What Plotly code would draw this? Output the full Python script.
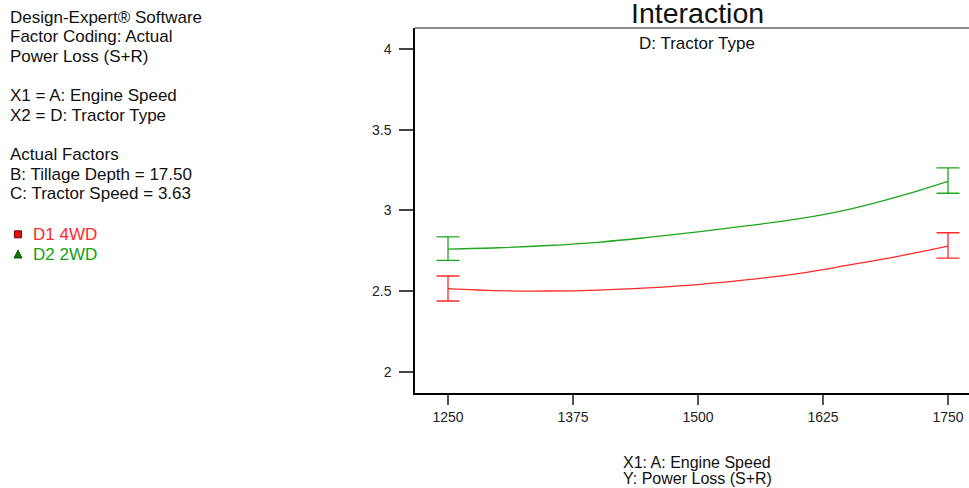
import plotly.graph_objects as go

# ---- data ----
engine_speed = [1250, 1300, 1350, 1400, 1450, 1500, 1550, 1600, 1650, 1700, 1750]
d1_4wd = [2.515, 2.502, 2.500, 2.506, 2.520, 2.540, 2.570, 2.608, 2.660, 2.715, 2.778]
d2_2wd = [2.760, 2.768, 2.782, 2.802, 2.832, 2.866, 2.905, 2.947, 3.005, 3.085, 3.180]

bar_x = [1250, 1750]
d1_bar_mean = [2.515, 2.778]
d1_bar_low = [2.438, 2.704]
d1_bar_high = [2.593, 2.861]
d2_bar_mean = [2.760, 3.180]
d2_bar_low = [2.690, 3.106]
d2_bar_high = [2.836, 3.263]

x_ticks = [1250, 1375, 1500, 1625, 1750]
y_ticks = [2, 2.5, 3, 3.5, 4]

info_lines = [
    "Design-Expert® Software", "Factor Coding: Actual", "Power Loss (S+R)", "",
    "X1 = A: Engine Speed", "X2 = D: Tractor Type", "",
    "Actual Factors", "B: Tillage Depth = 17.50", "C: Tractor Speed = 3.63",
]
legend_names = ["D1 4WD", "D2 2WD"]

RED = "#ff2a2a"
GREEN = "#1fa51f"
FONT = "Liberation Sans, Arial, sans-serif"

W, H = 969, 488
L, R, T, B = 415, 0, 28, 95
PW, PH = W - L - R, H - T - B


def px(x):
    return (x - L) / PW


def py(y):
    return (H - B - y) / PH


fig = go.Figure()

for name, vals, col in [(legend_names[0], d1_4wd, RED), (legend_names[1], d2_2wd, GREEN)]:
    fig.add_trace(go.Scatter(x=engine_speed, y=vals, mode="lines", name=name,
                             line=dict(color=col, width=1.3, shape="spline"),
                             showlegend=False, hoverinfo="skip"))

for mean, lo, hi, col in [(d1_bar_mean, d1_bar_low, d1_bar_high, RED),
                          (d2_bar_mean, d2_bar_low, d2_bar_high, GREEN)]:
    fig.add_trace(go.Scatter(
        x=bar_x, y=mean, mode="markers", marker=dict(size=1, color=col, opacity=0),
        showlegend=False, hoverinfo="skip",
        error_y=dict(type="data", symmetric=False,
                     array=[h - m for h, m in zip(hi, mean)],
                     arrayminus=[m - l for m, l in zip(mean, lo)],
                     color=col, thickness=1.3, width=11.5)))

annotations = []
# left info text
for i, line in enumerate(info_lines):
    if not line:
        continue
    annotations.append(dict(x=px(8), y=py(17.3 + 19.62 * i), xref="paper", yref="paper",
                            text=line, showarrow=False, xanchor="left", yanchor="middle",
                            font=dict(family=FONT, size=17, color="#111")))
# legend text
for i, (name, col) in enumerate(zip(legend_names, [RED, "#12a012"])):
    annotations.append(dict(x=px(31), y=py(234.3 + 19.7 * i), xref="paper", yref="paper",
                            text=name, showarrow=False, xanchor="left", yanchor="middle",
                            font=dict(family=FONT, size=17, color=col)))
# title & subtitle
annotations.append(dict(x=px(697), y=py(12.5), xref="paper", yref="paper", text="Interaction",
                        showarrow=False, xanchor="center", yanchor="middle",
                        font=dict(family=FONT, size=28.5, color="#111")))
annotations.append(dict(x=px(697), y=py(43), xref="paper", yref="paper", text="D: Tractor Type",
                        showarrow=False, xanchor="center", yanchor="middle",
                        font=dict(family=FONT, size=17, color="#111")))
# axis titles
annotations.append(dict(x=px(697), y=py(462.5), xref="paper", yref="paper", text="X1: A: Engine Speed",
                        showarrow=False, xanchor="center", yanchor="middle",
                        font=dict(family=FONT, size=16, color="#111")))
annotations.append(dict(x=px(697), y=py(478.5), xref="paper", yref="paper", text="Y: Power Loss (S+R)",
                        showarrow=False, xanchor="center", yanchor="middle",
                        font=dict(family=FONT, size=16, color="#111")))

shapes = [
    # top frame line
    dict(type="line", xref="paper", yref="paper", x0=0, x1=1, y0=1, y1=1,
         line=dict(color="#666", width=1.5)),
    # legend square
    dict(type="rect", xref="paper", yref="paper", x0=px(14.5), x1=px(21.5),
         y0=py(237.8), y1=py(230.8), fillcolor="#e01010", line=dict(color="#700", width=1)),
    # legend triangle
    dict(type="path", xref="paper", yref="paper",
         path=f"M {px(14)} {py(258)} L {px(22)} {py(258)} L {px(18)} {py(250)} Z",
         fillcolor="#0a7a0a", line=dict(color="#0a5a0a", width=1)),
]

fig.update_layout(
    width=W, height=H,
    margin=dict(l=L, r=R, t=T, b=B, pad=0),
    paper_bgcolor="white", plot_bgcolor="white",
    showlegend=False,
    annotations=annotations, shapes=shapes,
    font=dict(family=FONT, color="#222"),
    xaxis=dict(range=[1217, 1771], tickvals=x_ticks, ticktext=[str(v) for v in x_ticks],
               showgrid=False, zeroline=False, showline=True, linecolor="#000", linewidth=1.5,
               ticks="outside", ticklen=10, tickcolor="#555", tickwidth=1.5,
               tickfont=dict(family=FONT, size=14, color="#222")),
    yaxis=dict(range=[1.868, 4.13], tickvals=y_ticks, ticktext=["2", "2.5", "3", "3.5", "4"],
               showgrid=False, zeroline=False, showline=True, linecolor="#000", linewidth=1.5,
               ticks="outside", ticklen=14, tickcolor="#444", tickwidth=1.5,
               ticklabelstandoff=5,
               tickfont=dict(family=FONT, size=14, color="#222")),
)

fig.write_html("out.html",
               config={"displayModeBar": False},
               post_script="document.body.style.margin='0';document.body.style.overflow='hidden';")
